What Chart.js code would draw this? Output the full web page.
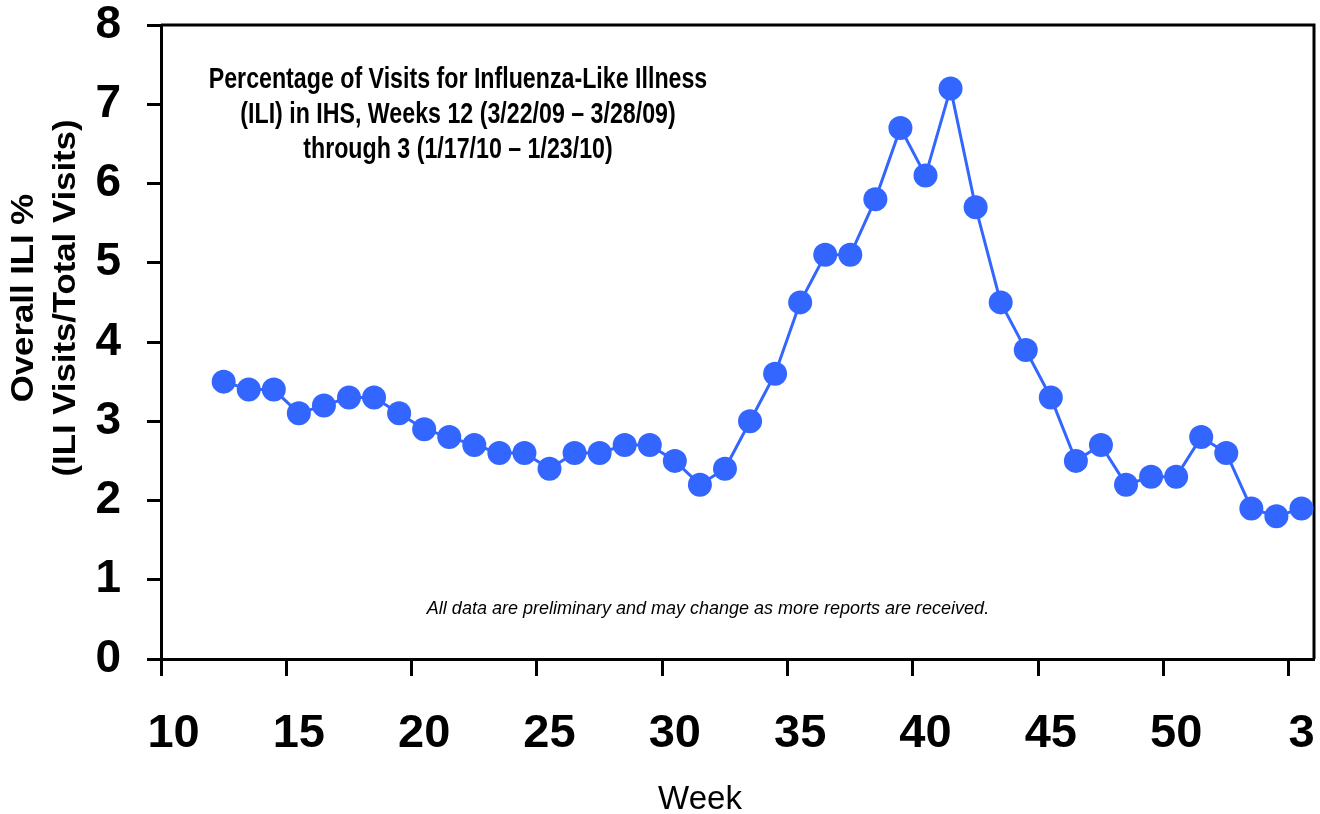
<!DOCTYPE html>
<html>
<head>
<meta charset="utf-8">
<title>ILI visits in IHS</title>
<script src="https://cdn.jsdelivr.net/npm/chart.js@4.4.1/dist/chart.umd.min.js"></script>
<style>
  html, body { margin: 0; padding: 0; background: #fff; }
</style>
</head>
<body>
<canvas id="iliChart" width="1320" height="814"></canvas>
<script>
// x categories: weeks 10-52 of 2009, then 1-3 of 2010
const weeks = ['10','11','12','13','14','15','16','17','18','19','20','21','22','23','24','25',
  '26','27','28','29','30','31','32','33','34','35','36','37','38','39','40','41','42','43','44',
  '45','46','47','48','49','50','51','52','1','2','3'];
const xTickLabels = ['10','15','20','25','30','35','40','45','50','3'];

// reported weeks and overall ILI %
const iliWeeks = ['12','13','14','15','16','17','18','19','20','21','22','23','24','25','26','27',
  '28','29','30','31','32','33','34','35','36','37','38','39','40','41','42','43','44','45','46',
  '47','48','49','50','51','52','1','2','3'];
const iliPct = [3.5, 3.4, 3.4, 3.1, 3.2, 3.3, 3.3, 3.1, 2.9, 2.8, 2.7, 2.6, 2.6, 2.4, 2.6, 2.6,
  2.7, 2.7, 2.5, 2.2, 2.4, 3.0, 3.6, 4.5, 5.1, 5.1, 5.8, 6.7, 6.1, 7.2, 5.7, 4.5, 3.9, 3.3, 2.5,
  2.7, 2.2, 2.3, 2.3, 2.8, 2.6, 1.9, 1.8, 1.9];

const yMin = 0, yMax = 8;

const titleLines = [
  'Percentage of Visits for Influenza-Like Illness',
  '(ILI) in IHS, Weeks 12 (3/22/09 \u2013 3/28/09)',
  'through 3 (1/17/10 \u2013 1/23/10)'
];
const yTitleLines = ['Overall ILI %', '(ILI Visits/Total Visits)'];
const xTitle = 'Week';
const note = 'All data are preliminary and may change as more reports are received.';

const FONT = '"Liberation Sans", Arial, Helvetica, sans-serif';
const BLUE = '#3366FF';

// box round the plot + free-placed texts
const extrasPlugin = {
  id: 'extras',
  beforeDatasetsDraw(chart) {
    const { ctx, chartArea: a } = chart;
    ctx.save();
    ctx.strokeStyle = '#000';
    ctx.lineWidth = 3;
    ctx.beginPath();
    ctx.moveTo(a.left, a.top);
    ctx.lineTo(a.right, a.top);
    ctx.lineTo(a.right, a.bottom);
    ctx.stroke();
    ctx.restore();
  },
  afterDraw(chart) {
    const ctx = chart.ctx;
    ctx.save();
    ctx.fillStyle = '#000';
    ctx.textAlign = 'center';
    ctx.textBaseline = 'alphabetic';

    // title inside the plot, a bit condensed
    ctx.font = 'bold 29px ' + FONT;
    titleLines.forEach((t, i) => {
      ctx.save();
      ctx.translate(458, 88 + i * 35);
      ctx.scale(0.8, 1);
      ctx.fillText(t, 0, 0);
      ctx.restore();
    });

    // y axis title, two lines
    ctx.font = 'bold 31px ' + FONT;
    ctx.textBaseline = 'middle';
    [24, 66].forEach((x, i) => {
      ctx.save();
      ctx.translate(x, 298);
      ctx.rotate(-Math.PI / 2);
      ctx.scale(1.12, 1);
      ctx.fillText(yTitleLines[i], 0, 0);
      ctx.restore();
    });

    ctx.textBaseline = 'alphabetic';
    ctx.font = '33px ' + FONT;
    ctx.fillText(xTitle, 700, 809);

    ctx.font = 'italic 18px ' + FONT;
    ctx.fillText(note, 708, 614);
    ctx.restore();
  }
};

new Chart(document.getElementById('iliChart'), {
  type: 'line',
  data: {
    labels: weeks,
    datasets: [{
      data: iliWeeks.map((w, i) => ({ x: w, y: iliPct[i] })),
      borderColor: BLUE,
      backgroundColor: BLUE,
      borderWidth: 3,
      pointRadius: 12,
      pointHoverRadius: 12,
      pointBorderWidth: 0,
      pointBackgroundColor: BLUE,
      tension: 0,
      clip: false
    }]
  },
  options: {
    responsive: false,
    animation: false,
    layout: { autoPadding: false, padding: { top: 25, right: 6, left: 0, bottom: 0 } },
    plugins: {
      legend: { display: false },
      tooltip: { enabled: false },
      title: { display: false }
    },
    scales: {
      x: {
        type: 'category',
        offset: true,
        grid: {
          offset: true,
          drawOnChartArea: false,
          tickLength: 17,
          tickWidth: 3,
          tickColor: c => (c.index % 5 === 0 ? '#000' : 'rgba(0,0,0,0)')
        },
        border: { color: '#000', width: 3 },
        ticks: {
          autoSkip: false,
          maxRotation: 0,
          padding: 30,
          color: '#000',
          font: { family: FONT, size: 47, weight: 'bold' },
          callback: function (val, idx) {
            const lab = this.getLabelForValue(val);
            return idx % 5 === 0 && xTickLabels.includes(lab) ? lab : '';
          }
        },
        afterFit: s => {
          s.height = 155;
          s.paddingLeft = 0;
          s.paddingRight = 0;
        }
      },
      y: {
        min: yMin,
        max: yMax,
        grid: {
          drawOnChartArea: false,
          tickLength: 14,
          tickWidth: 3,
          tickColor: '#000'
        },
        border: { color: '#000', width: 3 },
        ticks: {
          stepSize: 1,
          padding: 26,
          color: '#000',
          font: { family: FONT, size: 46, weight: 'bold' }
        },
        afterFit: s => {
          s.width = 161;
          s.paddingTop = 0;
          s.paddingBottom = 0;
        }
      }
    }
  },
  plugins: [extrasPlugin]
});
</script>
</body>
</html>
